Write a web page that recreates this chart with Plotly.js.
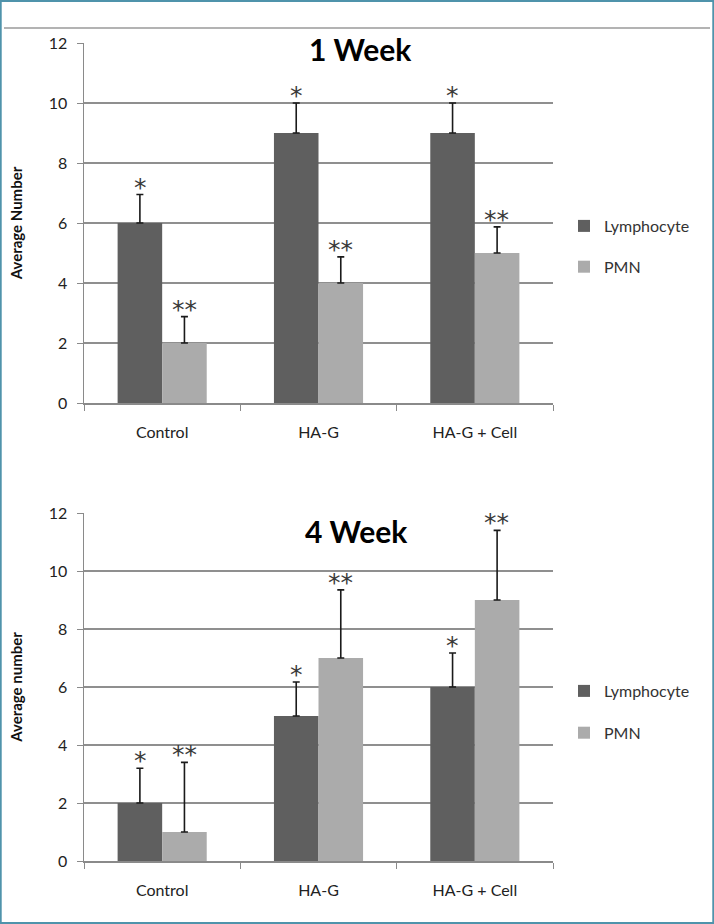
<!DOCTYPE html>
<html>
<head>
<meta charset="utf-8">
<script src="https://cdn.plot.ly/plotly-3.0.1.min.js"></script>
<style>html,body{margin:0;padding:0;background:#fff;}#chart{width:714px;height:924px;}</style>
</head>
<body>
<div id="chart"></div>
<script>
const categories = ["Control", "HA-G", "HA-G + Cell"];
const seriesNames = ["Lymphocyte", "PMN"];
const week1Lymph = [6, 9, 9];
const week1LymphErr = [0.95, 1.0, 1.0];
const week1PMN = [2, 4, 5];
const week1PMNErr = [0.88, 0.87, 0.87];
const week4Lymph = [2, 5, 6];
const week4LymphErr = [1.2, 1.17, 1.17];
const week4PMN = [1, 7, 9];
const week4PMNErr = [2.4, 2.35, 2.4];
const lymphMark = "*";
const pmnMark = "**";
const panelTitles = ["1 Week", "4 Week"];
const yTitles = ["Average Number", "Average number"];
const yTicks = [0, 2, 4, 6, 8, 10, 12];

const darkCol = "#5f5f5f";
const lightCol = "#ababab";
const font = "Lato, 'Open Sans', sans-serif";

function bar(name, y, err, color, xa, ya, legend) {
  return {
    type: "bar", name: name, x: categories, y: y, xaxis: xa, yaxis: ya,
    legend: legend, legendgroup: legend + name,
    marker: {color: color},
    error_y: {type: "data", symmetric: false, array: err, arrayminus: err.map(() => 0),
              color: "#1a1a1a", thickness: 1.6, width: 3.5}
  };
}

const data = [
  bar(seriesNames[0], week1Lymph, week1LymphErr, darkCol, "x", "y", "legend"),
  bar(seriesNames[1], week1PMN, week1PMNErr, lightCol, "x", "y", "legend"),
  bar(seriesNames[0], week4Lymph, week4LymphErr, darkCol, "x2", "y2", "legend2"),
  bar(seriesNames[1], week4PMN, week4PMNErr, lightCol, "x2", "y2", "legend2")
];

const annotations = [];
function marks(vals, errs, txt, shift, xr, yr) {
  vals.forEach((v, i) => {
    annotations.push({x: categories[i], y: v + errs[i], xref: xr, yref: yr, text: txt,
      showarrow: false, xshift: shift, yshift: -9, yanchor: "bottom",
      font: {family: "'DejaVu Sans', sans-serif", size: 25, color: "#3a3a3a"}});
  });
}
marks(week1Lymph, week1LymphErr, lymphMark, -22, "x", "y");
marks(week1PMN, week1PMNErr, pmnMark, 22, "x", "y");
marks(week4Lymph, week4LymphErr, lymphMark, -22, "x2", "y2");
marks(week4PMN, week4PMNErr, pmnMark, 22, "x2", "y2");

annotations.push({xref: "paper", yref: "paper", x: 360/714, y: 1 - 49/924, yanchor: "middle", text: "<b>" + panelTitles[0] + "</b>",
  showarrow: false, font: {family: font, size: 30, color: "#000"}});
annotations.push({xref: "paper", yref: "paper", x: 356/714, y: 1 - 531/924, yanchor: "middle", text: "<b>" + panelTitles[1] + "</b>",
  showarrow: false, font: {family: font, size: 30, color: "#000"}});

function xax(anchor) {
  return {anchor: anchor, domain: [84/714, 553/714], type: "category", showgrid: false,
    showline: true, linecolor: "#8a8a8a", linewidth: 1.5, ticks: "outside", tickson: "boundaries",
    ticklen: 6, tickcolor: "#8a8a8a", ticklabelstandoff: 14,
    tickfont: {family: font, size: 16, color: "#222"}, fixedrange: true};
}
function yax(anchor, dom, title) {
  return {anchor: anchor, domain: dom, range: [0, 12], tickvals: yTicks, showgrid: true,
    gridcolor: "#8f8f8f", gridwidth: 1.3, showline: true, linecolor: "#8a8a8a", linewidth: 1.5,
    ticks: "outside", ticklen: 6, tickcolor: "#8a8a8a", zeroline: false, ticklabelstandoff: 6,
    tickfont: {family: font, size: 16, color: "#222"},
    title: {text: "<b>" + title + "</b>", standoff: 22, font: {family: font, size: 15, color: "#111"}}};
}

const layout = {
  width: 714, height: 924, margin: {l: 0, r: 0, t: 0, b: 0},
  paper_bgcolor: "#fff", plot_bgcolor: "#fff",
  barmode: "group", bargap: 0.43, bargroupgap: 0,
  xaxis: xax("y"), yaxis: yax("x", [1 - 403/924, 1 - 43/924], yTitles[0]),
  xaxis2: xax("y2"), yaxis2: yax("x2", [1 - 861/924, 1 - 513/924], yTitles[1]),
  legend: {x: 564/714, y: 1 - 209/924, xanchor: "left", yanchor: "top", traceorder: "grouped",
    tracegroupgap: 17, itemwidth: 30, font: {family: font, size: 16, color: "#333"}, bgcolor: "rgba(0,0,0,0)"},
  legend2: {x: 564/714, y: 1 - 674/924, xanchor: "left", yanchor: "top", traceorder: "grouped",
    tracegroupgap: 18, itemwidth: 30, font: {family: font, size: 16, color: "#333"}, bgcolor: "rgba(0,0,0,0)"},
  annotations: annotations,
  shapes: [
    {type: "rect", xref: "paper", yref: "paper", x0: 0.001, x1: 0.999, y0: 0.001, y1: 0.999,
     line: {color: "#4f93ab", width: 2}},
    {type: "line", xref: "paper", yref: "paper", x0: 4/714, x1: 710/714, y0: 1 - 28/924, y1: 1 - 28/924,
     line: {color: "#9a9a9a", width: 1.5}}
  ]
};

Plotly.newPlot("chart", data, layout, {displayModeBar: false, staticPlot: true});
</script>
</body>
</html>
